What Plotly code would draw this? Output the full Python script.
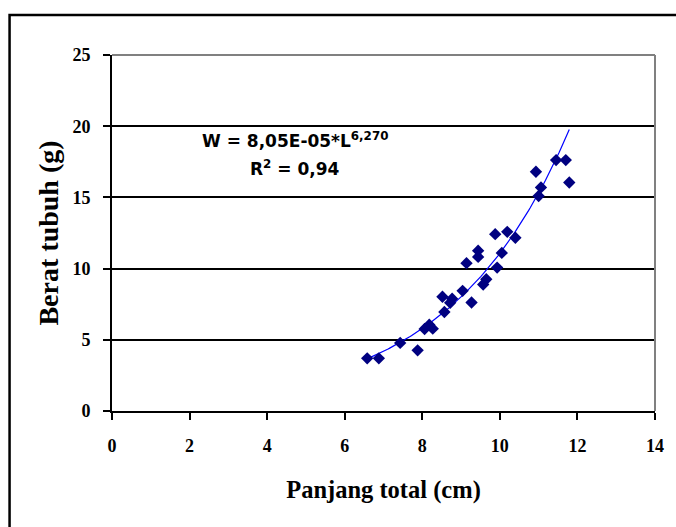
import numpy as np
import plotly.graph_objects as go

# Data
panjang_cm = [6.58, 6.88, 7.43, 7.88, 8.06, 8.18, 8.27, 8.57, 8.52, 8.77,
              8.72, 9.04, 9.27, 9.14, 9.44, 9.44, 9.57, 9.65, 9.93, 9.88,
              10.05, 10.19, 10.40, 10.93, 11.00, 11.06, 11.45, 11.70, 11.79]
berat_g = [3.70, 3.70, 4.78, 4.26, 5.76, 6.06, 5.78, 6.95, 8.02, 7.88,
           7.60, 8.44, 7.62, 10.38, 11.26, 10.82, 8.88, 9.25, 10.07, 12.42,
           11.10, 12.58, 12.17, 16.80, 15.10, 15.70, 17.62, 17.62, 16.05]

x_ticks = [0, 2, 4, 6, 8, 10, 12, 14]
y_ticks = [0, 5, 10, 15, 20, 25]

equation_text = "<b>W = 8,05E-05*L<sup>6,270</sup></b>"
r2_text = "<b>R<sup>2</sup> = 0,94</b>"

# Trendline fitted to the data (least squares on log of weight)
x_arr = np.array(panjang_cm)
y_arr = np.array(berat_g)
k, ln_a = np.polyfit(x_arr, np.log(y_arr), 1)
trend_x = np.linspace(x_arr.min(), x_arr.max(), 120)
trend_y = np.exp(ln_a + k * trend_x)

W, H = 676, 527
L, R, T, B = 112, 18, 55, 116
pw, ph = W - L - R, H - T - B

fig = go.Figure()
fig.add_trace(go.Scatter(
    x=trend_x, y=trend_y, mode="lines",
    line=dict(color="#0000FF", width=1.2), hoverinfo="skip", showlegend=False))
fig.add_trace(go.Scatter(
    x=panjang_cm, y=berat_g, mode="markers",
    marker=dict(symbol="diamond", size=9.5, color="#000080",
                line=dict(width=0)),
    showlegend=False))

serif = "Liberation Serif"
fig.update_layout(
    width=W, height=H,
    margin=dict(l=L, r=R, t=T, b=B),
    paper_bgcolor="white", plot_bgcolor="white",
    showlegend=False,
    xaxis=dict(
        range=[0, 14], tickvals=x_ticks, ticktext=[str(v) for v in x_ticks],
        showgrid=False, zeroline=False,
        showline=True, linecolor="black", linewidth=2,
        ticks="outside", ticklen=7, tickwidth=2, tickcolor="black",
        tickfont=dict(family=serif, size=18, color="black", weight="bold"),
        ticklabelstandoff=10,
        title=dict(text="<b>Panjang total (cm)</b>", standoff=26,
                   font=dict(family=serif, size=24.5, color="black")),
    ),
    yaxis=dict(
        range=[0, 25], tickvals=y_ticks, ticktext=[str(v) for v in y_ticks],
        showgrid=True, gridcolor="black", gridwidth=2,
        zeroline=False,
        showline=True, linecolor="black", linewidth=2,
        ticks="outside", ticklen=7, tickwidth=2, tickcolor="black",
        tickfont=dict(family=serif, size=18, color="black", weight="bold"),
        ticklabelstandoff=9,
        title=dict(text="<b>Berat tubuh (g)</b>", standoff=6,
                   font=dict(family=serif, size=28, color="black")),
    ),
    annotations=[
        dict(x=4.72, y=19.0, xref="x", yref="y", text=equation_text,
             showarrow=False, xanchor="center", yanchor="middle",
             font=dict(family="DejaVu Sans", size=17, color="black")),
        dict(x=4.72, y=17.05, xref="x", yref="y", text=r2_text,
             showarrow=False, xanchor="center", yanchor="middle",
             font=dict(family="DejaVu Sans", size=17, color="black")),
    ],
    shapes=[
        # plot-area border (grey top and right)
        dict(type="line", xref="paper", yref="paper", x0=0, x1=1, y0=1, y1=1,
             line=dict(color="#808080", width=2), layer="above"),
        dict(type="line", xref="paper", yref="paper", x0=1, x1=1, y0=0, y1=1,
             line=dict(color="#808080", width=2), layer="above"),
        # outer chart frame
        dict(type="rect", xref="paper", yref="paper",
             x0=(9 - L) / pw, x1=1.2, y0=-0.5, y1=1 + (T - 15) / ph,
             line=dict(color="black", width=2.5), layer="above"),
    ],
)

fig.write_html("out.html",
               config={"displayModeBar": False},
               post_script="document.body.style.margin='0';"
                           "document.body.style.overflow='hidden';")
